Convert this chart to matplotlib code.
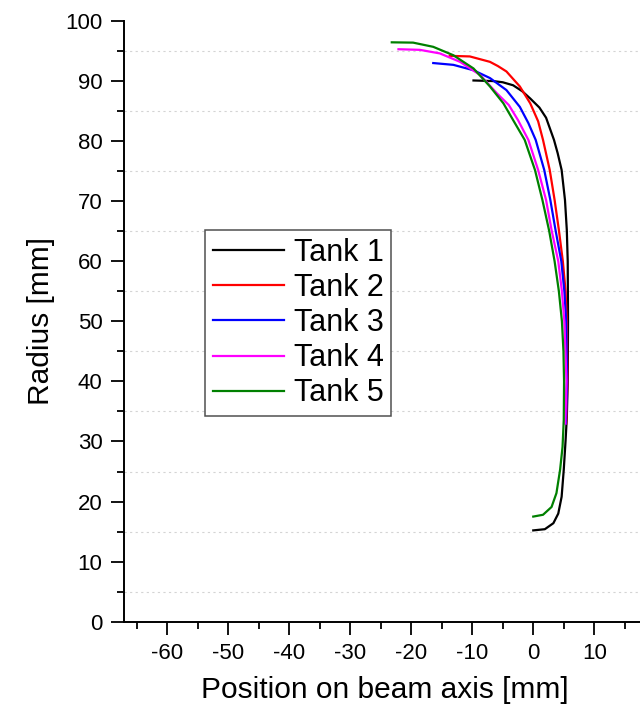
import matplotlib
matplotlib.use("Agg")
import matplotlib.pyplot as plt
from matplotlib.ticker import MultipleLocator

plt.rcParams['font.family'] = ['Liberation Sans', 'DejaVu Sans']
plt.rcParams['axes.unicode_minus'] = False

# ---- data ----
tank1_x = [0.0, 1.9, 3.3, 4.1, 4.65, 5.0, 5.3, 5.5, 5.65, 5.7, 5.65, 5.5, 5.2, 4.65, 4.0, 3.4, 2.1, 1.0, -0.5, -1.8, -3.3, -5.0, -6.6, -9.8]
tank1_y = [15.2, 15.4, 16.4, 18.0, 20.8, 25.3, 30.2, 34.0, 40.0, 50.0, 60.0, 65.2, 70.2, 75.2, 78.0, 80.2, 83.9, 85.6, 87.1, 88.3, 89.3, 89.8, 90.0, 90.1]

tank2_x = [5.4, 5.6, 5.5, 5.3, 4.85, 4.2, 3.5, 2.7, 1.6, 0.8, -0.5, -2.2, -4.4, -5.8, -7.1, -10.4, -13.7]
tank2_y = [33.0, 40.0, 50.0, 55.0, 60.0, 65.2, 70.2, 75.2, 80.2, 83.3, 86.3, 89.1, 91.6, 92.5, 93.2, 94.1, 94.2]

tank3_x = [5.35, 5.55, 5.4, 5.1, 4.6, 3.65, 2.8, 1.8, 0.4, -0.8, -2.2, -4.4, -7.1, -9.8, -13.1, -16.4]
tank3_y = [33.0, 40.0, 50.0, 55.0, 60.0, 65.2, 70.2, 75.2, 80.2, 83.0, 85.7, 88.5, 90.5, 91.8, 92.7, 93.0]

tank4_x = [5.25, 5.45, 5.1, 4.7, 4.1, 3.0, 2.1, 0.8, -0.8, -2.5, -4.0, -6.0, -8.7, -12.0, -15.3, -18.6, -22.1]
tank4_y = [33.0, 40.0, 50.0, 55.0, 60.0, 65.2, 70.2, 75.2, 80.2, 83.5, 86.0, 88.0, 91.0, 93.2, 94.6, 95.2, 95.3]

tank5_x = [0.0, 1.6, 3.0, 3.8, 4.4, 4.8, 5.0, 5.05, 4.95, 4.7, 4.2, 3.5, 2.6, 1.5, 0.28, -1.4, -3.3, -4.9, -7.1, -9.8, -13.1, -16.4, -19.7, -23.2]
tank5_y = [17.5, 17.8, 19.1, 21.4, 25.3, 29.1, 33.6, 40.0, 45.0, 50.0, 55.0, 60.0, 65.1, 70.2, 75.2, 80.2, 83.5, 86.3, 89.1, 92.1, 94.3, 95.7, 96.4, 96.45]

labels = ["Tank 1", "Tank 2", "Tank 3", "Tank 4", "Tank 5"]
colors = ["#000000", "#ff0000", "#0000ff", "#ff00ff", "#008000"]
series = [(tank1_x, tank1_y), (tank2_x, tank2_y), (tank3_x, tank3_y),
          (tank4_x, tank4_y), (tank5_x, tank5_y)]

fig = plt.figure(figsize=(6.4, 7.08), dpi=100)
ax = fig.add_axes([124 / 640, 1 - 621.7 / 708, 516 / 640, 600.7 / 708])

for (x, y), lab, c in zip(series, labels, colors):
    ax.plot(x, y, color=c, lw=1.6, label=lab, solid_joinstyle='round')

ax.set_xlim(-67.1, 17.5)
ax.set_ylim(0, 100)
ax.xaxis.set_major_locator(MultipleLocator(10))
ax.xaxis.set_minor_locator(MultipleLocator(5))
ax.yaxis.set_major_locator(MultipleLocator(10))
ax.yaxis.set_minor_locator(MultipleLocator(5))

for s in ['top', 'right']:
    ax.spines[s].set_visible(False)
for s in ['left', 'bottom']:
    ax.spines[s].set_linewidth(1.4)

ax.tick_params(axis='both', which='major', direction='out', length=9.5, width=1.3,
               labelsize=16, pad=6)
ax.tick_params(axis='both', which='minor', direction='out', length=5, width=1.3)

ax.yaxis.grid(True, which='major', color='#c4c4c4', lw=1.1)
ax.yaxis.grid(True, which='minor', color='#d4d4d4', lw=0.8, linestyle=(0, (2, 3)))
ax.set_axisbelow(True)
for t in ax.yaxis.get_major_ticks():
    v = t.get_loc()
    if v <= 0 or v >= 100:
        t.gridline.set_visible(False)

ax.set_xlabel("Position on beam axis [mm]", fontsize=21.5)
ax.set_ylabel("Radius [mm]", fontsize=21.5)
ax.xaxis.set_label_coords(0.506, -0.09)
ax.yaxis.set_label_coords(-0.134, 0.5)

leg = ax.legend(loc='upper left', bbox_to_anchor=(0.157, 0.652), borderaxespad=0,
                fontsize=22, handlelength=2.35, handletextpad=0.3,
                borderpad=0.25, labelspacing=0.17, fancybox=False, framealpha=1)
leg.get_frame().set_edgecolor('#505050')
leg.get_frame().set_linewidth(1.1)

fig.savefig("out.png", dpi=100)
